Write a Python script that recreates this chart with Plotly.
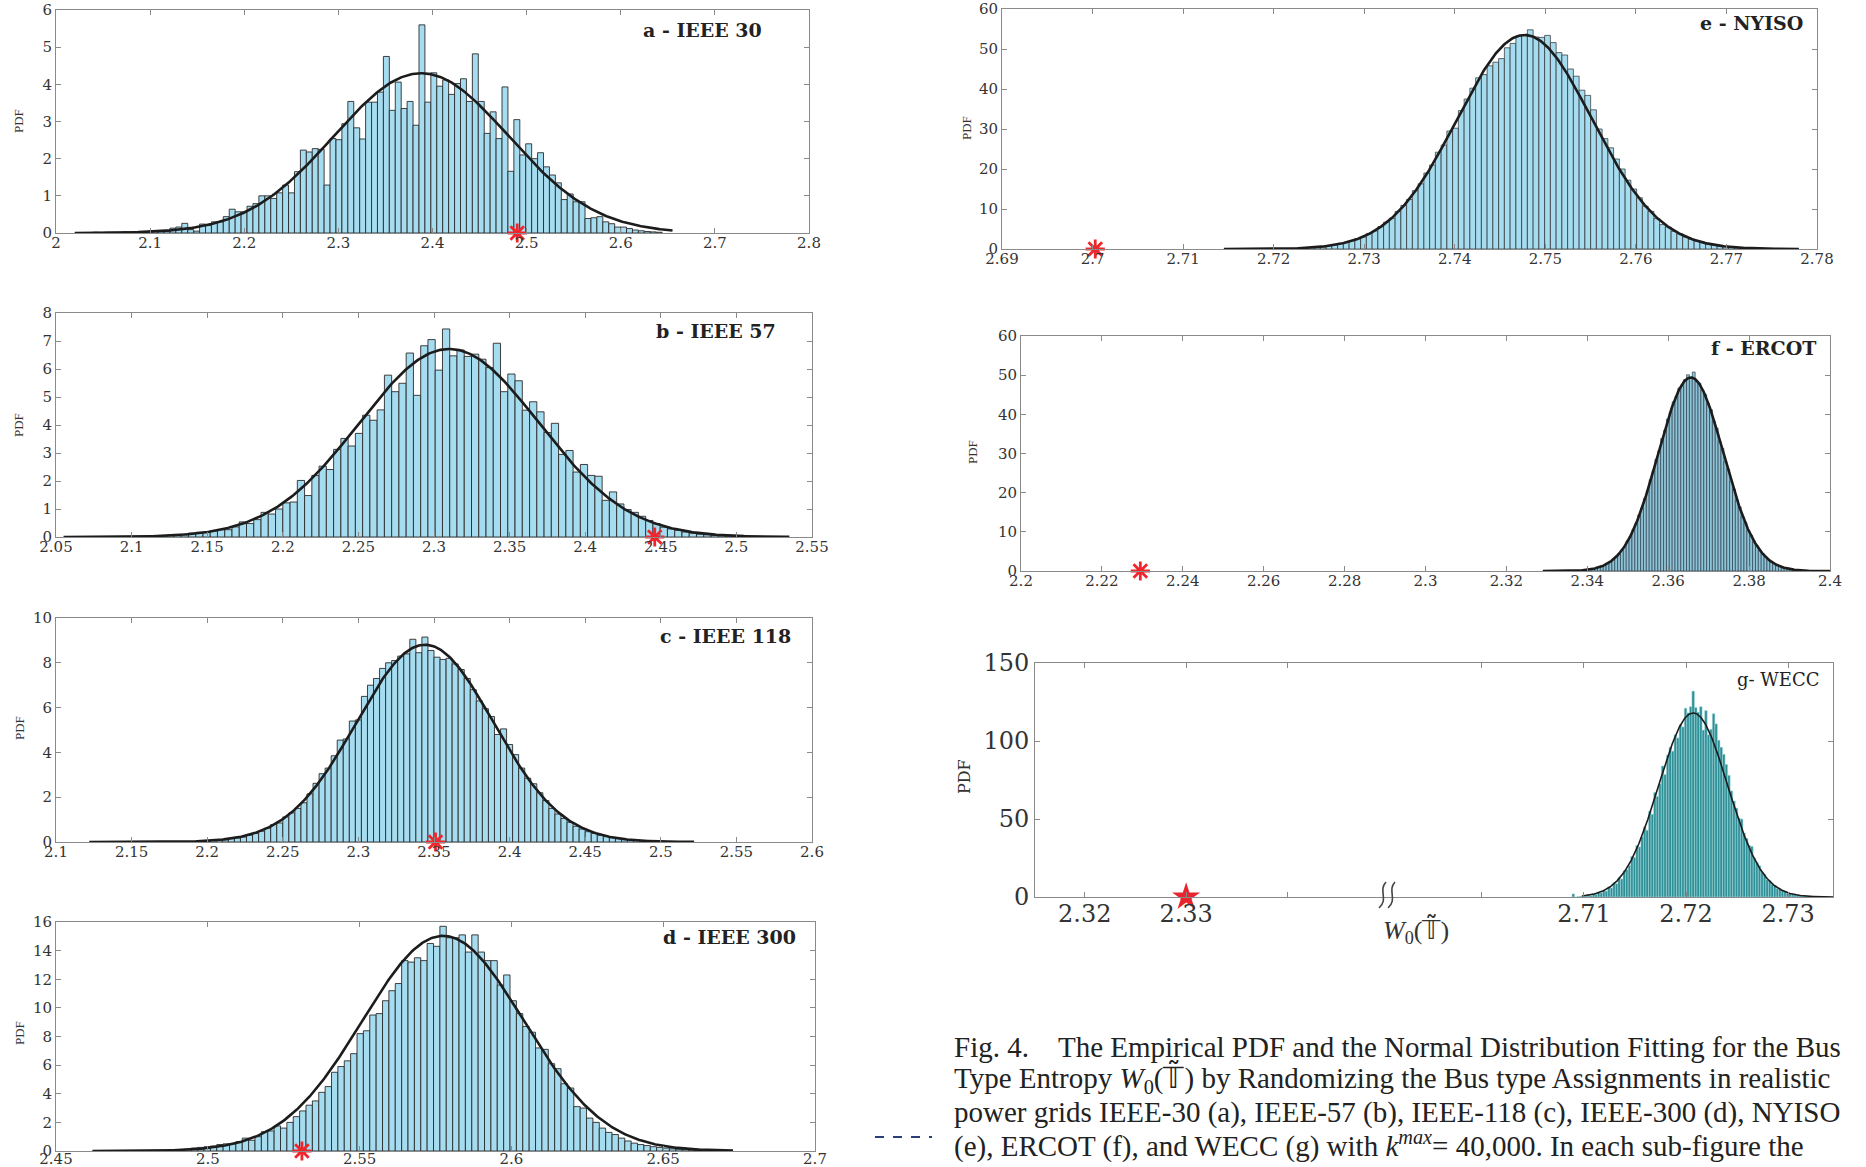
import numpy as np
import plotly.graph_objects as go

W, H = 1866, 1167

# ---------------- data ----------------
# each histogram: centre of first bin, bin width, PDF heights
a_first, a_width = 2.0234, 0.0063
a_pdf = [0.01, 0.01, 0.01, 0.02, 0.01, 0.02, 0.02, 0.02, 0.03, 0.02,
         0.03, 0.02, 0.03, 0.04, 0.04, 0.05,
         0.13, 0.16, 0.26, 0.09, 0.05, 0.24, 0.2, 0.3, 0.3, 0.44, 0.64, 0.57,
         0.57, 0.72, 0.79, 1.0, 1.0, 0.93, 1.08, 1.29, 1.08, 1.65, 2.23, 2.18,
         2.27, 2.25, 1.29, 2.54, 2.51, 2.94, 3.54, 2.83, 2.53, 3.52, 3.52, 3.79,
         4.75,
         3.3, 4.06, 3.35, 3.54, 2.9, 5.6, 3.52, 4.31, 3.95, 4.12, 3.73, 4.02,
         4.15, 3.54, 4.82, 3.54, 2.68, 3.26, 2.54, 3.93, 1.66, 3.05, 2.1, 2.4,
         2.0, 2.16, 1.78, 1.56, 1.35, 0.9, 1.05, 0.84, 0.84, 0.39, 0.41, 0.44,
         0.3, 0.25, 0.16, 0.16, 0.12, 0.08, 0.06, 0.04, 0.03, 0.02]
a_fit = (2.388, 0.0928)
a_span = (2.02, 2.655)
a_star = 2.49

b_first, b_width = 2.0968, 0.0048
b_pdf = [0.01, 0.02, 0.02, 0.03, 0.04, 0.05, 0.06, 0.08, 0.1, 0.14, 0.17,
         0.18, 0.21, 0.26, 0.26, 0.36, 0.54, 0.48, 0.62, 0.88, 0.82, 1.0, 1.22,
         1.25, 2.02, 1.48, 2.2, 2.53, 2.41, 3.13, 3.52, 3.25, 3.70, 4.35, 4.17,
         4.54, 5.78, 5.19, 5.49, 6.57, 5.06, 6.83, 7.05, 5.96,
         7.43,
         6.47, 6.68, 6.45, 6.53, 6.35, 6.05, 6.92, 5.19, 5.82, 5.58, 4.53, 4.83,
         4.47, 3.73, 4.06, 2.95, 3.09, 2.32, 2.59, 2.2, 2.17, 1.31, 1.61, 1.18,
         0.98, 0.88, 0.74, 0.59, 0.48, 0.35, 0.29, 0.24, 0.18, 0.14, 0.1, 0.08,
         0.06, 0.04, 0.03, 0.02]
b_fit = (2.31, 0.0594)
b_span = (2.055, 2.535)
b_star = 2.446

c_first, c_width = 2.200, 0.004
c_pdf = [0.05, 0.06, 0.08, 0.1, 0.15, 0.18, 0.22, 0.3, 0.38, 0.48, 0.62, 0.78,
         0.85, 1.12, 1.3, 1.5, 1.75, 2.15, 2.62, 3.05, 3.3, 3.85, 4.55, 4.6,
         5.4, 5.45, 6.5, 7.0, 7.3, 7.75, 8.0, 8.1, 8.3, 8.4, 9.05, 8.45,
         9.15,
         8.55, 8.25, 8.15, 8.2, 7.95, 7.7, 7.3, 6.8, 6.3, 5.95, 5.6, 4.8, 5.05,
         4.35, 3.9, 3.3, 2.85, 2.6, 2.2, 1.85, 1.5, 1.25, 1.05, 0.88, 0.7, 0.58,
         0.46, 0.38, 0.3, 0.24, 0.19, 0.15, 0.12, 0.09, 0.07, 0.05, 0.04, 0.03,
         0.02, 0.015]
c_fit = (2.344, 0.0453)
c_span = (2.122, 2.522)
c_star = 2.351

d_first, d_width = 2.483, 0.0021
d_pdf = [0.02, 0.03, 0.04, 0.06, 0.08, 0.12, 0.2, 0.25, 0.3, 0.35, 0.45, 0.5,
         0.5, 0.65, 0.9, 0.75, 1.0, 1.35, 1.4, 1.75, 1.6, 2.0, 2.4, 2.8, 3.2,
         3.5, 4.1, 4.5, 5.5, 5.9, 6.3, 6.8, 8.2, 8.4, 9.5, 9.6, 10.5, 11.2,
         11.7, 13.3, 13.2, 13.5, 13.3, 14.5, 14.3,
         15.7,
         14.9, 14.9, 15.1, 13.9, 15.1, 13.9, 13.3, 13.3, 11.6, 12.3, 10.5, 9.6,
         8.7, 8.3, 7.2, 7.1, 6.1, 5.75, 4.7, 4.4, 3.1, 3.0, 2.3, 2.0, 1.6, 1.3,
         1.15, 0.9, 0.7, 0.55, 0.45, 0.38, 0.3, 0.25, 0.2, 0.15, 0.12, 0.09,
         0.07, 0.05, 0.04, 0.03]
d_fit = (2.5775, 0.02654)
d_span = (2.462, 2.673)
d_star = 2.531

e_first, e_width = 2.7223, 0.000635
e_pdf = [0.15, 0.2, 0.3, 0.35, 0.5, 0.6, 0.8, 1.0, 1.4, 1.6, 2.1, 2.6, 3.0,
         3.9, 4.5, 5.6, 6.7, 7.7, 9.4, 10.9, 12.4, 14.6, 16.3, 19.0, 21.0,
         24.2, 26.0, 29.5, 30.2, 34.6, 37.5, 40.2, 42.8, 43.6, 45.8, 46.7, 47.6,
         50.3, 51.4, 53.2,
         53.6,
         54.8, 53.0, 52.9, 53.4, 51.6, 49.1, 48.5, 45.0, 43.2, 39.7, 38.4, 34.8,
         30.0, 27.6, 25.3, 22.5, 20.0, 17.2, 15.0, 12.8, 10.7, 9.4, 7.6, 6.1,
         5.5, 4.4, 3.8, 3.0, 2.5, 2.0, 1.6, 1.3, 1.0, 0.8, 0.6, 0.45, 0.35,
         0.25, 0.2, 0.15]
e_fit = (2.7477, 0.007457)
e_span = (2.7145, 2.778)
e_star = 2.7003

f_first, f_width = 2.3372, 0.00071
f_pdf = [0.1, 0.12, 0.18, 0.25, 0.32, 0.45, 0.55, 0.75, 0.95, 1.2, 1.5, 1.95,
         2.35, 3.0, 3.6, 4.5, 5.3, 6.3, 7.7, 8.9, 10.6, 12.1, 14.3, 16.0, 18.5,
         20.5, 23.3, 25.5, 28.5, 30.7, 33.8, 35.9, 38.8, 40.6, 43.2, 44.6, 46.7,
         47.5, 48.9, 50.1,
         49.2,
         50.8, 48.4, 47.9, 46.2, 45.1, 42.7, 41.2, 38.3, 36.5, 33.2, 31.3, 28.0,
         26.0, 22.9, 20.9, 18.1, 16.4, 13.9, 12.4, 10.4, 9.1, 7.5, 6.5, 5.2,
         4.5, 3.5, 3.0, 2.3, 1.95, 1.5, 1.2, 0.95, 0.72, 0.56, 0.43, 0.33, 0.25,
         0.19, 0.14, 0.1, 0.07, 0.05, 0.03, 0.02, 0.01]
f_fit = (2.3656, 0.008076)
f_span = (2.329, 2.4)
f_star = 2.2295

g_first, g_width = 2.70895, 0.00025
g_pdf = [2.0, 0.0, 0.3, 0.5, 0.0, 0.8, 1.5, 0.9, 2.2, 1.5, 3.1, 2.6, 4.4, 3.8,
         6.5, 5.8, 9.2, 8.5, 12.5, 11.6, 16.8, 17.5, 20.2, 26.0, 25.4, 33.0,
         32.1, 38.5, 45.0, 42.8, 55.0, 53.0, 67.0, 64.5, 72.5, 84.0, 78.5, 91.0,
         96.0, 93.5, 104.0, 102.0, 110.5, 109.0, 121.0, 118.0, 122.0,
         132.0,
         121.5, 118.5, 122.0, 107.0, 119.5, 104.0, 107.5, 117.5, 111.0, 100.5,
         96.0, 91.5, 85.0, 78.0, 68.0, 61.5, 57.0, 50.5, 50.0, 41.0, 37.5, 33.0,
         32.5, 25.0, 22.0, 20.0, 16.0, 14.5, 11.0, 10.5, 8.0, 7.5, 5.5, 5.0,
         4.0, 3.5, 2.5, 2.2, 1.8, 1.4, 1.2, 0.9, 0.8, 0.6, 0.5, 0.35, 0.3, 0.2,
         0.15, 0.1, 0.08, 0.05, 0.04, 0.03, 0.02]
g_fit = (2.7207, 0.003381)
g_span = (2.7098, 2.7345)
g_star = 2.33

# axis ticks
a_xticks = [2.0, 2.1, 2.2, 2.3, 2.4, 2.5, 2.6, 2.7, 2.8]
a_xlabels = ["2", "2.1", "2.2", "2.3", "2.4", "2.5", "2.6", "2.7", "2.8"]
a_yticks = [0, 1, 2, 3, 4, 5, 6]
b_xticks = [2.05, 2.1, 2.15, 2.2, 2.25, 2.3, 2.35, 2.4, 2.45, 2.5, 2.55]
b_xlabels = ["2.05", "2.1", "2.15", "2.2", "2.25", "2.3", "2.35", "2.4",
             "2.45", "2.5", "2.55"]
b_yticks = [0, 1, 2, 3, 4, 5, 6, 7, 8]
c_xticks = [2.1, 2.15, 2.2, 2.25, 2.3, 2.35, 2.4, 2.45, 2.5, 2.55, 2.6]
c_xlabels = ["2.1", "2.15", "2.2", "2.25", "2.3", "2.35", "2.4", "2.45",
             "2.5", "2.55", "2.6"]
c_yticks = [0, 2, 4, 6, 8, 10]
d_xticks = [2.45, 2.5, 2.55, 2.6, 2.65, 2.7]
d_xlabels = ["2.45", "2.5", "2.55", "2.6", "2.65", "2.7"]
d_yticks = [0, 2, 4, 6, 8, 10, 12, 14, 16]
e_xticks = [2.69, 2.70, 2.71, 2.72, 2.73, 2.74, 2.75, 2.76, 2.77, 2.78]
e_xlabels = ["2.69", "2.7", "2.71", "2.72", "2.73", "2.74", "2.75", "2.76",
             "2.77", "2.78"]
e_yticks = [0, 10, 20, 30, 40, 50, 60]
f_xticks = [2.2, 2.22, 2.24, 2.26, 2.28, 2.3, 2.32, 2.34, 2.36, 2.38, 2.4]
f_xlabels = ["2.2", "2.22", "2.24", "2.26", "2.28", "2.3", "2.32", "2.34",
             "2.36", "2.38", "2.4"]
f_yticks = [0, 10, 20, 30, 40, 50, 60]
g_left_ticks = [2.32, 2.33, 2.34]
g_left_labels = ["2.32", "2.33", ""]
g_right_ticks = [2.70, 2.71, 2.72, 2.73]
g_right_labels = ["", "2.71", "2.72", "2.73"]
g_yticks = [0, 50, 100, 150]

titles = {"a": "a - IEEE 30", "b": "b - IEEE 57", "c": "c - IEEE 118",
          "d": "d - IEEE 300", "e": "e - NYISO", "f": "f - ERCOT",
          "g": "g- WECC"}

caption = [
    "Fig. 4.\u00a0\u00a0\u00a0\u00a0The Empirical PDF and the Normal Distribution Fitting for the Bus",
    "Type Entropy <i>W</i><sub>0</sub>(\U0001D54B\u0303) by Randomizing the Bus type Assignments in realistic",
    "power grids IEEE-30 (a), IEEE-57 (b), IEEE-118 (c), IEEE-300 (d), NYISO",
    "(e), ERCOT (f), and WECC (g) with <i>k</i><sup><i>max</i></sup>= 40,000. In each sub-figure the",
]

# ---------------- helpers ----------------
SERIF = "DejaVu Serif"
FRAME = "#8a8a8a"
TXT = "#333333"
STAR_RED = "#f0262c"


def normal_pdf(x, mu, sd):
    return np.exp(-0.5 * ((x - mu) / sd) ** 2) / (sd * np.sqrt(2 * np.pi))


def centres(first, width, n):
    return first + width * np.arange(n)


def fx(p):
    return p / W


def fy(p):
    return 1 - p / H


fig = go.Figure()

# pixel boxes of each plotting area: left, right, top, bottom
boxes = {
    "a": (56, 809, 10, 233),
    "b": (56, 812, 313, 537),
    "c": (56, 812, 618, 842),
    "d": (56, 815, 922, 1151),
    "e": (1002, 1817, 9, 249),
    "f": (1021, 1830, 336, 571),
    "g": (1035, 1833, 663, 897),
}
g_break = 1386

panels = {
    "a": (a_first, a_width, a_pdf, a_fit, a_span, a_star, [2.0, 2.8], [0, 6],
          a_xticks, a_xlabels, a_yticks),
    "b": (b_first, b_width, b_pdf, b_fit, b_span, b_star, [2.05, 2.55], [0, 8],
          b_xticks, b_xlabels, b_yticks),
    "c": (c_first, c_width, c_pdf, c_fit, c_span, c_star, [2.1, 2.6], [0, 10],
          c_xticks, c_xlabels, c_yticks),
    "d": (d_first, d_width, d_pdf, d_fit, d_span, d_star, [2.45, 2.7], [0, 16],
          d_xticks, d_xlabels, d_yticks),
    "e": (e_first, e_width, e_pdf, e_fit, e_span, e_star, [2.69, 2.78], [0, 60],
          e_xticks, e_xlabels, e_yticks),
    "f": (f_first, f_width, f_pdf, f_fit, f_span, f_star, [2.2, 2.4], [0, 60],
          f_xticks, f_xlabels, f_yticks),
}

bar_style = {
    "a": ("#a6dcf0", "#2b2b2b", 0.9),
    "b": ("#a6dcf0", "#2b2b2b", 0.9),
    "c": ("#a6dcf0", "#2b2b2b", 0.9),
    "d": ("#a6dcf0", "#2b2b2b", 0.9),
    "e": ("#a6dcf0", "#2b2b2b", 0.7),
    "f": ("#8fc4d8", "#1f2f3a", 0.6),
}
x_standoff = {"a": -4, "b": -4, "c": -4, "d": -6, "e": -4, "f": -4}

layout_axes = {}
annotations = []


def axis_common(rng, tickvals, ticktext, size, mirror="ticks", standoff=0):
    return dict(range=rng, tickmode="array", tickvals=tickvals,
                ticktext=ticktext, showline=True, mirror=mirror,
                linecolor=FRAME, linewidth=1, ticks="inside", ticklen=5,
                tickcolor=FRAME, showgrid=False, zeroline=False,
                automargin=False, ticklabelstandoff=standoff,
                tickfont=dict(family=SERIF, size=size, color=TXT),
                fixedrange=True)


pdf_label_pos = {"a": (19, 121), "b": (18, 425), "c": (19, 728),
                 "d": (19, 1033), "e": (966, 128), "f": (972, 452)}
title_pos = {"a": 0.94, "b": 0.955, "c": 0.975, "d": 0.978,
             "e": 0.985, "f": 0.985}
title_ypos = {"a": 0.91, "b": 0.92, "c": 0.92, "d": 0.935,
              "e": 0.94, "f": 0.95}

for i, key in enumerate(["a", "b", "c", "d", "e", "f"], start=1):
    (first, width, pdf, fit, span, star, xr, yr,
     xt, xl, yt) = panels[key]
    xid = "x" if i == 1 else f"x{i}"
    yid = "y" if i == 1 else f"y{i}"
    L, R, T, B = boxes[key]
    fill, edge, ew = bar_style[key]

    xs = centres(first, width, len(pdf))
    fig.add_trace(go.Bar(x=xs, y=pdf, width=width, xaxis=xid, yaxis=yid,
                         marker=dict(color=fill, line=dict(color=edge, width=ew)),
                         hoverinfo="skip"))
    cx = np.linspace(span[0], span[1], 500)
    fig.add_trace(go.Scatter(x=cx, y=normal_pdf(cx, *fit), mode="lines",
                             xaxis=xid, yaxis=yid,
                             line=dict(color="#1c1c1c", width=2.6),
                             hoverinfo="skip"))
    fig.add_trace(go.Scatter(x=[star], y=[0], mode="markers", xaxis=xid,
                             yaxis=yid, cliponaxis=False,
                             marker=dict(symbol="asterisk-open", size=16,
                                         color=STAR_RED,
                                         line=dict(color=STAR_RED, width=2.8)),
                             hoverinfo="skip"))

    xname = "xaxis" if i == 1 else f"xaxis{i}"
    yname = "yaxis" if i == 1 else f"yaxis{i}"
    layout_axes[xname] = dict(axis_common(xr, xt, xl, 15,
                                          standoff=x_standoff[key]),
                              domain=[fx(L), fx(R)], anchor=yid)
    layout_axes[yname] = dict(axis_common(yr, yt, [str(v) for v in yt], 15),
                              domain=[fy(B), fy(T)], anchor=xid)

    annotations.append(dict(text=titles[key], xref=f"{xid} domain",
                            yref=f"{yid} domain", x=title_pos[key],
                            y=title_ypos[key], xanchor="right",
                            yanchor="middle", showarrow=False,
                            font=dict(family=SERIF, size=19, color="#222",
                                      weight="bold")))
    px, py = pdf_label_pos[key]
    annotations.append(dict(text="PDF", xref="paper", yref="paper",
                            x=fx(px), y=fy(py), textangle=-90,
                            showarrow=False, xanchor="center",
                            yanchor="middle",
                            font=dict(family="Liberation Serif", size=13,
                                      color=TXT)))

# ---- panel g: broken x axis (left segment x7, right segment x8) ----
L, R, T, B = boxes["g"]
gx = centres(g_first, g_width, len(g_pdf))
fig.add_trace(go.Bar(x=gx, y=g_pdf, width=g_width, xaxis="x8", yaxis="y8",
                     marker=dict(color="#2f8f97",
                                 line=dict(color="#a9dcdf", width=0.5)),
                     hoverinfo="skip"))
gcx = np.linspace(g_span[0], g_span[1], 500)
fig.add_trace(go.Scatter(x=gcx, y=normal_pdf(gcx, *g_fit), mode="lines",
                         xaxis="x8", yaxis="y8",
                         line=dict(color="#1c1c1c", width=1.6),
                         hoverinfo="skip"))
fig.add_trace(go.Scatter(x=[g_star], y=[0], mode="markers", xaxis="x7",
                         yaxis="y7", cliponaxis=False,
                         marker=dict(symbol="star", size=21, color="#e8242c",
                                     line=dict(width=0)),
                         hoverinfo="skip"))

g_xl = axis_common([2.3151, 2.3497], g_left_ticks, g_left_labels, 24,
                   standoff=-5)
g_xr = axis_common([2.6906, 2.7344], g_right_ticks, g_right_labels, 24,
                   standoff=-5)
layout_axes["xaxis7"] = dict(g_xl, domain=[fx(L), fx(g_break)], anchor="y7")
layout_axes["xaxis8"] = dict(g_xr, domain=[fx(g_break), fx(R)], anchor="y8")
g_y = axis_common([0, 150], g_yticks, [str(v) for v in g_yticks], 24,
                  mirror=False)
layout_axes["yaxis7"] = dict(g_y, domain=[fy(B), fy(T)], anchor="x7")
g_y2 = dict(g_y, showticklabels=False, side="right")
layout_axes["yaxis8"] = dict(g_y2, domain=[fy(B), fy(T)], anchor="x8")

annotations.append(dict(text=titles["g"], xref="x8 domain", yref="y8 domain",
                        x=0.975, y=0.93, xanchor="right", yanchor="middle",
                        showarrow=False,
                        font=dict(family=SERIF, size=18, color="#222")))
annotations.append(dict(text="PDF", xref="paper", yref="paper",
                        x=fx(964), y=fy(777), textangle=-90, showarrow=False,
                        xanchor="center", yanchor="middle",
                        font=dict(family=SERIF, size=16, color=TXT)))
annotations.append(dict(text="<i>W</i><sub>0</sub>(\U0001D54B\u0303)",
                        xref="paper", yref="paper", x=fx(1416), y=fy(931),
                        xanchor="center", yanchor="middle", showarrow=False,
                        font=dict(family="Liberation Serif", size=26,
                                  color=TXT)))


# axis-break mark: two short wavy strokes across the bottom axis line
def wave(cx, cy, h=13, amp=5):
    p0 = (fx(cx - 3), fy(cy + h))
    c1 = (fx(cx + amp + 2), fy(cy + h / 3))
    c2 = (fx(cx - amp + 1), fy(cy - h / 3))
    p3 = (fx(cx + 4), fy(cy - h))
    return (f"M {p0[0]},{p0[1]} C {c1[0]},{c1[1]} {c2[0]},{c2[1]} "
            f"{p3[0]},{p3[1]}")


shapes = [dict(type="line", xref="paper", yref="paper",
               x0=fx(875), x1=fx(932), y0=fy(1137), y1=fy(1137),
               line=dict(color="#2a3f7a", width=2, dash="dash"))]
for off in (-4, 5):
    shapes.append(dict(type="path", xref="paper", yref="paper",
                       path=wave(g_break + off, 895),
                       line=dict(color="#444", width=1.6)))

# ---- caption ----
cap_y = [1047, 1079, 1112, 1144]
for line, yy in zip(caption, cap_y):
    annotations.append(dict(text=line, xref="paper", yref="paper",
                            x=fx(952), y=fy(yy), xanchor="left",
                            yanchor="middle", showarrow=False,
                            font=dict(family="Liberation Serif", size=29,
                                      color="#222")))

fig.update_layout(
    width=W, height=H, margin=dict(l=0, r=0, t=0, b=0),
    paper_bgcolor="white", plot_bgcolor="white", showlegend=False,
    barmode="overlay", annotations=annotations, shapes=shapes,
    **layout_axes,
)

fig.write_html("out.html")
